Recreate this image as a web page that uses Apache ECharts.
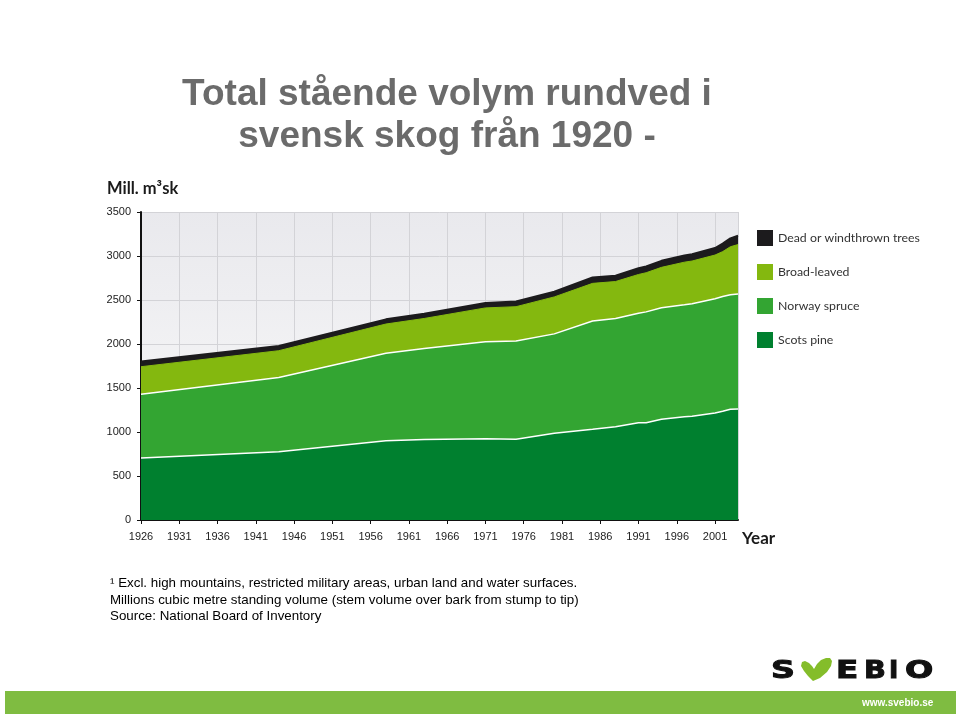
<!DOCTYPE html>
<html>
<head>
<meta charset="utf-8">
<script src="https://cdn.jsdelivr.net/npm/echarts@6/dist/echarts.min.js"></script>
<style>
  html, body { margin: 0; padding: 0; background: #fff; }
  #main { width: 960px; height: 716px; }
</style>
</head>
<body>
<div id="main"></div>
<script>
// inventory years (breakpoints of the curves)
var years = [1926, 1944, 1958, 1963, 1971, 1975, 1980, 1985, 1988, 1991, 1992, 1994, 1997, 1998, 2001, 2002, 2003, 2004];
// million m3sk per tree type
var scotsPine    = [705, 776, 900, 915, 924, 917, 985, 1030, 1060, 1106, 1106, 1144, 1174, 1178, 1215, 1235, 1258, 1262];
var norwaySpruce = [723, 844, 994, 1035, 1101, 1117, 1130, 1231, 1230, 1244, 1259, 1269, 1271, 1280, 1300, 1305, 1302, 1306];
var broadLeaved  = [314, 304, 333, 340, 385, 390, 420, 428, 420, 440, 445, 458, 485, 485, 496, 510, 545, 562];
var deadTrees    = [58, 54, 53, 55, 55, 58, 60, 66, 65, 70, 70, 74, 75, 77, 79, 90, 95, 100];

var names = ['Dead or windthrown trees', 'Broad-leaved', 'Norway spruce', 'Scots pine'];
var colors = ['#1c1b1d', '#84b80f', '#33a532', '#00802f'];

var dom = document.getElementById('main');
var myChart = echarts.init(dom);

// running totals, top layer first (drawn underneath)
function cumulative(layers) {
  return years.map(function (y, i) {
    var s = 0;
    layers.forEach(function (l) { s += l[i]; });
    return [y, s];
  });
}
var tops = [
  cumulative([scotsPine, norwaySpruce, broadLeaved, deadTrees]),
  cumulative([scotsPine, norwaySpruce, broadLeaved]),
  cumulative([scotsPine, norwaySpruce]),
  cumulative([scotsPine])
];
var lineColors = ['#1c1b1d', '#84b80f', '#ffffff', '#ffffff'];
var lineWidths = [2, 1, 1.5, 1.5];

var series = names.map(function (n, i) {
  return {
    name: n,
    type: 'line',
    data: tops[i],
    symbol: 'none',
    color: colors[i],
    lineStyle: { color: lineColors[i], width: lineWidths[i] },
    areaStyle: { color: colors[i], opacity: 1 },
    z: 2 + i
  };
});

// logo letters, stretched wide
var logoFont = 'bold 25px "DejaVu Sans"';
function logoLetter(ch, x, sx) {
  return { type: 'text', x: x, y: 671, scaleX: sx, style: { text: ch, font: logoFont, fill: '#111', stroke: '#111', lineWidth: 1, textVerticalAlign: 'middle' } };
}

var option = {
  animation: false,
  backgroundColor: '#ffffff',
  grid: {
    left: 141, right: 222, top: 212, bottom: 196,
    show: true,
    borderWidth: 0,
    backgroundColor: new echarts.graphic.LinearGradient(0, 0, 0, 1, [
      { offset: 0, color: '#e9e9ed' },
      { offset: 1, color: '#fbfbfb' }
    ])
  },
  legend: {
    data: names,
    orient: 'vertical',
    left: 757, top: 230,
    padding: 0,
    itemWidth: 16, itemHeight: 16, itemGap: 18,
    icon: 'rect',
    itemStyle: { borderWidth: 0 },
    textStyle: { fontFamily: 'Lato', fontSize: 12.3, color: '#333' }
  },
  xAxis: {
    type: 'value',
    min: 1926, max: 2004, interval: 5,
    axisLine: { lineStyle: { color: '#111', width: 2 } },
    axisTick: { show: true, length: 4, lineStyle: { color: '#111' } },
    axisLabel: {
      showMaxLabel: false, margin: 11, fontFamily: 'Liberation Sans', fontSize: 11, color: '#222',
      formatter: function (v) { return String(v); }
    },
    splitLine: { show: true, lineStyle: { color: '#d3d3d7', width: 1 } }
  },
  yAxis: {
    type: 'value',
    min: 0, max: 3500, interval: 500,
    axisLine: { show: true, lineStyle: { color: '#111', width: 2 } },
    axisTick: { show: true, length: 4, lineStyle: { color: '#111' } },
    axisLabel: {
      margin: 10, fontFamily: 'Liberation Sans', fontSize: 11, color: '#222',
      formatter: function (v) { return String(v); }
    },
    splitLine: { show: true, lineStyle: { color: '#d3d3d7', width: 1 } }
  },
  graphic: [
    { type: 'text', x: 447, y: 95, style: { text: 'Total stående volym rundved i', textAlign: 'center', textVerticalAlign: 'middle', font: 'bold 37px "Liberation Sans"', fill: '#6b6b6b' } },
    { type: 'text', x: 447, y: 137, style: { text: 'svensk skog från 1920 -', textAlign: 'center', textVerticalAlign: 'middle', font: 'bold 37px "Liberation Sans"', fill: '#6b6b6b' } },
    { type: 'text', x: 107, y: 180, style: { text: 'Mill. m³sk', font: 'bold 16.5px Lato', fill: '#1a1a1a' } },
    { type: 'text', x: 742, y: 530, style: { text: 'Year', font: 'bold 17px Lato', fill: '#1a1a1a' } },
    { type: 'text', x: 110, y: 577, style: { text: '¹ Excl. high mountains, restricted military areas, urban land and water surfaces.', font: '13.35px "Liberation Sans"', fill: '#000' } },
    { type: 'text', x: 110, y: 594, style: { text: 'Millions cubic metre standing volume (stem volume over bark from stump to tip)', font: '13.35px "Liberation Sans"', fill: '#000' } },
    { type: 'text', x: 110, y: 610, style: { text: 'Source: National Board of Inventory', font: '13.35px "Liberation Sans"', fill: '#000' } },
    // logo
    logoLetter('S', 771, 1.33),
    { type: 'polygon', x: 801, y: 658, shape: { points: [[12, 23], [7, 18], [3, 13], [0, 8], [1, 4], [4, 3], [8, 5], [11, 8], [13, 11], [16, 6], [20, 2], [25, 0], [29, 0], [31, 3], [30, 8], [26, 14], [19, 20]] }, style: { fill: '#84bd2a' } },
    logoLetter('E', 836, 1.3),
    logoLetter('B', 864, 1.15),
    logoLetter('I', 889, 1.0),
    logoLetter('O', 905, 1.33),
    // bottom bar
    { type: 'rect', shape: { x: 5, y: 691, width: 951, height: 23 }, style: { fill: '#7fbc41' }, z: 0 },
    { type: 'text', x: 862, y: 698, z: 1, style: { text: 'www.svebio.se', font: 'bold 10px "Liberation Sans"', fill: '#ffffff' } }
  ],
  series: series
};
myChart.setOption(option, true);
</script>
</body>
</html>
